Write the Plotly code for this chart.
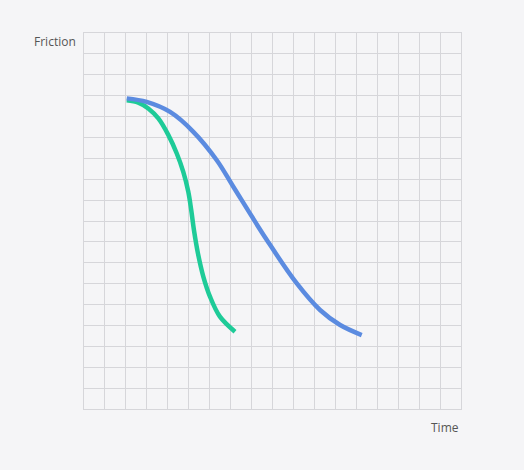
import plotly.graph_objects as go

# curve samples (grid units, 18 x 18 grid)
blue_x = [2.04, 2.99, 4.11, 5.22, 6.34, 7.13, 8.73, 10.16, 11.27, 12.23, 13.26]
blue_y = [14.87, 14.70, 14.22, 13.27, 11.91, 10.64, 8.09, 6.01, 4.74, 4.02, 3.54]

green_x = [2.04, 2.59, 3.07, 3.55, 4.03, 4.43, 4.74, 4.98, 5.12, 5.25, 5.44, 5.70, 6.02, 6.49, 7.21]
green_y = [14.78, 14.67, 14.39, 13.91, 13.11, 12.23, 11.35, 10.40, 9.52, 8.56, 7.45, 6.33, 5.37, 4.42, 3.70]

x_label = "Time"
y_label = "Friction"

bg = "#f5f5f7"
grid = "#d6d6da"

fig = go.Figure()
fig.add_trace(go.Scatter(x=green_x, y=green_y, mode="lines", line_shape="spline",
                         line=dict(color="#1ecb98", width=4.5), showlegend=False))
fig.add_trace(go.Scatter(x=blue_x, y=blue_y, mode="lines", line_shape="spline",
                         line=dict(color="#5b8be0", width=4.5), showlegend=False))

axis_common = dict(range=[0, 18], dtick=1, showticklabels=False, showgrid=True,
                   gridcolor=grid, gridwidth=1, zeroline=False, showline=True,
                   linecolor=grid, mirror=True, fixedrange=True)
fig.update_xaxes(**axis_common)
fig.update_yaxes(**axis_common)

fig.add_annotation(text=y_label, xref="paper", yref="paper", x=0, y=1,
                   xanchor="right", yanchor="top", xshift=-6, yshift=2, showarrow=False,
                   font=dict(size=12, color="#555555"))
fig.add_annotation(text=x_label, xref="paper", yref="paper", x=1, y=0,
                   xanchor="right", yanchor="top", yshift=-8, showarrow=False,
                   font=dict(size=12, color="#555555"))

fig.update_layout(width=524, height=470, paper_bgcolor=bg, plot_bgcolor=bg,
                  margin=dict(l=84, r=63, t=33, b=61),
                  font=dict(family="Open Sans, Noto Sans, sans-serif"))

# drop the default page margin so the figure sits flush in the window
fig.write_html("out.html", config={"displayModeBar": False},
               post_script="document.body.style.margin='0';"
                           "document.body.style.background='#f5f5f7';")
